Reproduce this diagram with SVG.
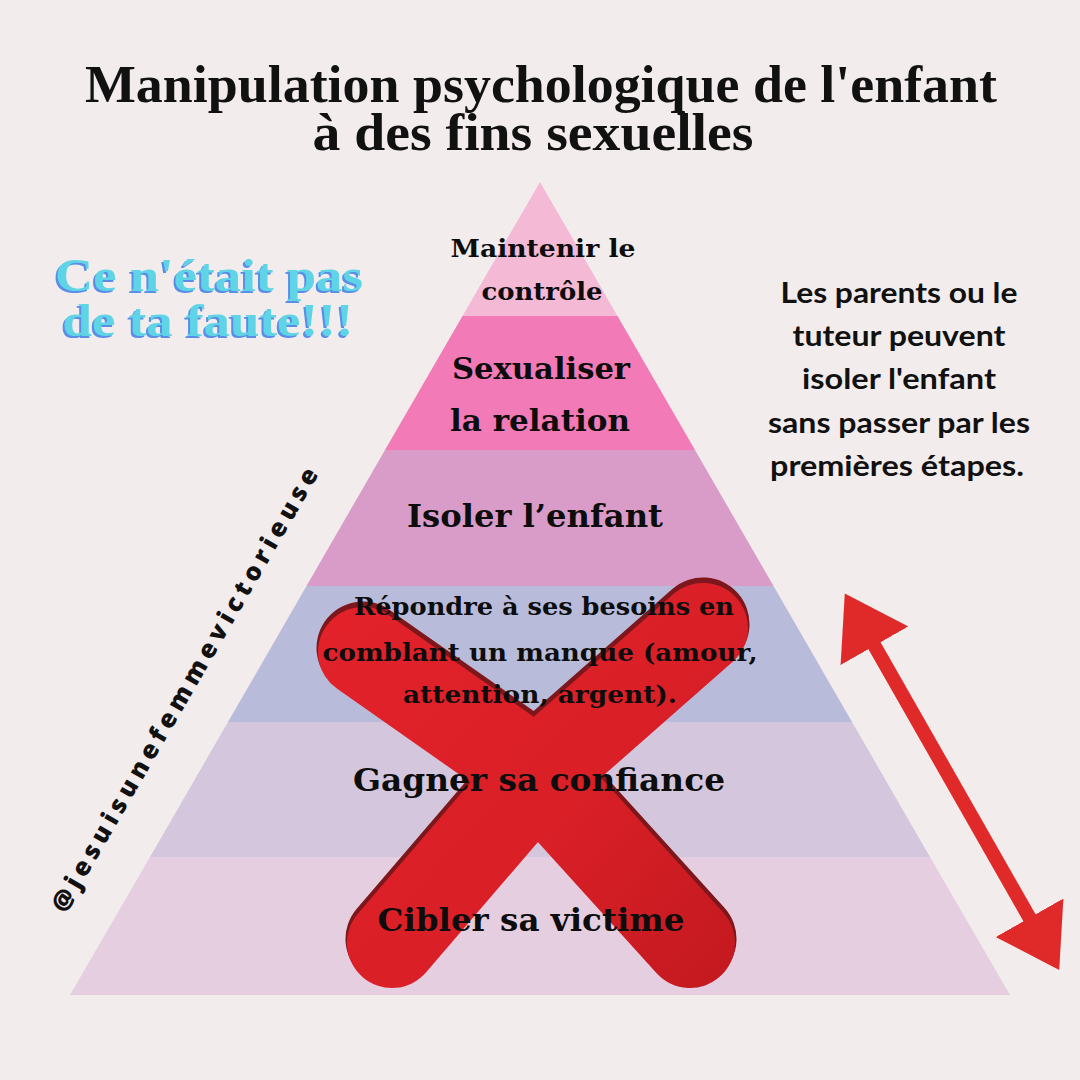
<svg xmlns="http://www.w3.org/2000/svg" width="1080" height="1080" viewBox="0 0 1080 1080">
  <defs>
    <style>
      .title { font-family: "Liberation Serif", "DejaVu Serif", serif; font-weight: bold; font-size: 52px; fill: #111111; text-anchor: middle; }
      .lbl { font-family: "DejaVu Serif", "Liberation Serif", serif; font-weight: bold; fill: #0d0d0d; text-anchor: middle; }
      .note { font-family: "Lato", "Open Sans", sans-serif; font-weight: bold; font-size: 28px; fill: #111111; text-anchor: middle; }
      .slogan { font-family: "Liberation Serif", "DejaVu Serif", serif; font-weight: bold; font-size: 47px; fill: #5ED4E6; text-anchor: middle; }
      .handle { font-family: "Open Sans", "Lato", sans-serif; font-weight: 800; font-size: 25px; fill: #111111; text-anchor: middle; }
      .arm { fill: none; stroke-linecap: round; stroke-linejoin: round; }
    </style>
    <filter id="blueShadow" x="-10%" y="-20%" width="120%" height="140%">
      <feOffset in="SourceAlpha" dx="-2" dy="2" result="off"/>
      <feFlood flood-color="#5A8DE6"/>
      <feComposite in2="off" operator="in" result="shadow"/>
      <feMerge>
        <feMergeNode in="shadow"/>
        <feMergeNode in="SourceGraphic"/>
      </feMerge>
    </filter>
    <linearGradient id="redGrad" gradientUnits="userSpaceOnUse" x1="330" y1="600" x2="750" y2="980">
      <stop offset="0" stop-color="#E3222A"/>
      <stop offset="0.55" stop-color="#DA1F27"/>
      <stop offset="1" stop-color="#C2191F"/>
    </linearGradient>
    <marker id="head" markerUnits="userSpaceOnUse" markerWidth="62" markerHeight="80" refX="2" refY="39" orient="auto-start-reverse" viewBox="0 0 62 80">
      <path d="M0,0 L60,39 L0,78 Z" fill="#E02A2A"/>
    </marker>
  </defs>

  <rect width="1080" height="1080" fill="#F2ECEC"/>

  <!-- Title -->
  <g id="title">
    <text class="title" x="541" y="102" textLength="912" lengthAdjust="spacingAndGlyphs">Manipulation psychologique de l'enfant</text>
    <text class="title" x="533" y="150" textLength="441" lengthAdjust="spacingAndGlyphs">à des fins sexuelles</text>
  </g>

  <!-- Pyramid layers (shapes) -->
  <g id="layer-1-maintenir"><polygon points="540,182 617.5,316 462.5,316" fill="#F4B9D5"/></g>
  <g id="layer-2-sexualiser"><polygon points="462.5,316 617.5,316 695,450 385,450" fill="#F17AB7"/></g>
  <g id="layer-3-isoler"><polygon points="385,450 695,450 773.5,586 306.5,586" fill="#D99BC8"/></g>
  <g id="layer-4-repondre"><polygon points="306.5,586 773.5,586 852,722 228,722" fill="#B8BCDA"/></g>
  <g id="layer-5-gagner"><polygon points="228,722 852,722 930,857 150,857" fill="#D3C6DD"/></g>
  <g id="layer-6-cibler"><polygon points="150,857 930,857 1010,995 70,995" fill="#E5CEE0"/></g>

  <!-- Red cross -->
  <g id="cross">
    <g transform="translate(0,-4)">
      <path class="arm" d="M363,652 L537,774 L690,943" stroke="#7E171B" stroke-width="93"/>
      <path class="arm" d="M703,628 L537,774 L392,943" stroke="#7E171B" stroke-width="93"/>
    </g>
    <path class="arm" d="M363,652 L537,774 L690,943" stroke="url(#redGrad)" stroke-width="90"/>
    <path class="arm" d="M703,628 L537,774 L392,943" stroke="url(#redGrad)" stroke-width="90"/>
  </g>

  <!-- Layer labels -->
  <g id="label-1">
    <text class="lbl" x="543" y="257" font-size="25" textLength="185" lengthAdjust="spacingAndGlyphs">Maintenir le</text>
    <text class="lbl" x="542" y="300" font-size="25" textLength="121" lengthAdjust="spacingAndGlyphs">contrôle</text>
  </g>
  <g id="label-2">
    <text class="lbl" x="541" y="379" font-size="30" textLength="178" lengthAdjust="spacingAndGlyphs">Sexualiser</text>
    <text class="lbl" x="540" y="431" font-size="30" textLength="180" lengthAdjust="spacingAndGlyphs">la relation</text>
  </g>
  <g id="label-3">
    <text class="lbl" x="535" y="527" font-size="31" textLength="256" lengthAdjust="spacingAndGlyphs">Isoler l’enfant</text>
  </g>
  <g id="label-4">
    <text class="lbl" x="544" y="615" font-size="25" textLength="380" lengthAdjust="spacingAndGlyphs">Répondre à ses besoins en</text>
    <text class="lbl" x="540" y="661" font-size="25" textLength="435" lengthAdjust="spacingAndGlyphs">comblant un manque (amour,</text>
    <text class="lbl" x="540" y="703" font-size="25" textLength="274" lengthAdjust="spacingAndGlyphs">attention, argent).</text>
  </g>
  <g id="label-5">
    <text class="lbl" x="539" y="791" font-size="32" textLength="372" lengthAdjust="spacingAndGlyphs">Gagner sa confiance</text>
  </g>
  <g id="label-6">
    <text class="lbl" x="531" y="931" font-size="32" textLength="307" lengthAdjust="spacingAndGlyphs">Cibler sa victime</text>
  </g>

  <!-- Slogan -->
  <g id="slogan" filter="url(#blueShadow)">
    <text class="slogan" x="209" y="291" textLength="308" lengthAdjust="spacingAndGlyphs">Ce n'était pas</text>
    <text class="slogan" x="208" y="336" textLength="291" lengthAdjust="spacingAndGlyphs">de ta faute!!!</text>
  </g>

  <!-- Side note -->
  <g id="note">
    <text class="note" x="899" y="303" textLength="237" lengthAdjust="spacingAndGlyphs">Les parents ou le</text>
    <text class="note" x="899" y="346" textLength="213" lengthAdjust="spacingAndGlyphs">tuteur peuvent</text>
    <text class="note" x="899" y="389" textLength="194" lengthAdjust="spacingAndGlyphs">isoler l'enfant</text>
    <text class="note" x="899" y="433" textLength="262" lengthAdjust="spacingAndGlyphs">sans passer par les</text>
    <text class="note" x="897" y="476" textLength="254" lengthAdjust="spacingAndGlyphs">premières étapes.</text>
  </g>

  <!-- Handle -->
  <g id="handle">
    <text class="handle" transform="translate(192,694) rotate(-60)" x="0" y="0" textLength="508" lengthAdjust="spacing">@jesuisunefemmevictorieuse</text>
  </g>

  <!-- Connectors -->
  <g id="connectors">
    <line x1="873.5" y1="644" x2="1030.5" y2="919.5" stroke="#E02A2A" stroke-width="14" marker-start="url(#head)" marker-end="url(#head)"/>
  </g>
</svg>
